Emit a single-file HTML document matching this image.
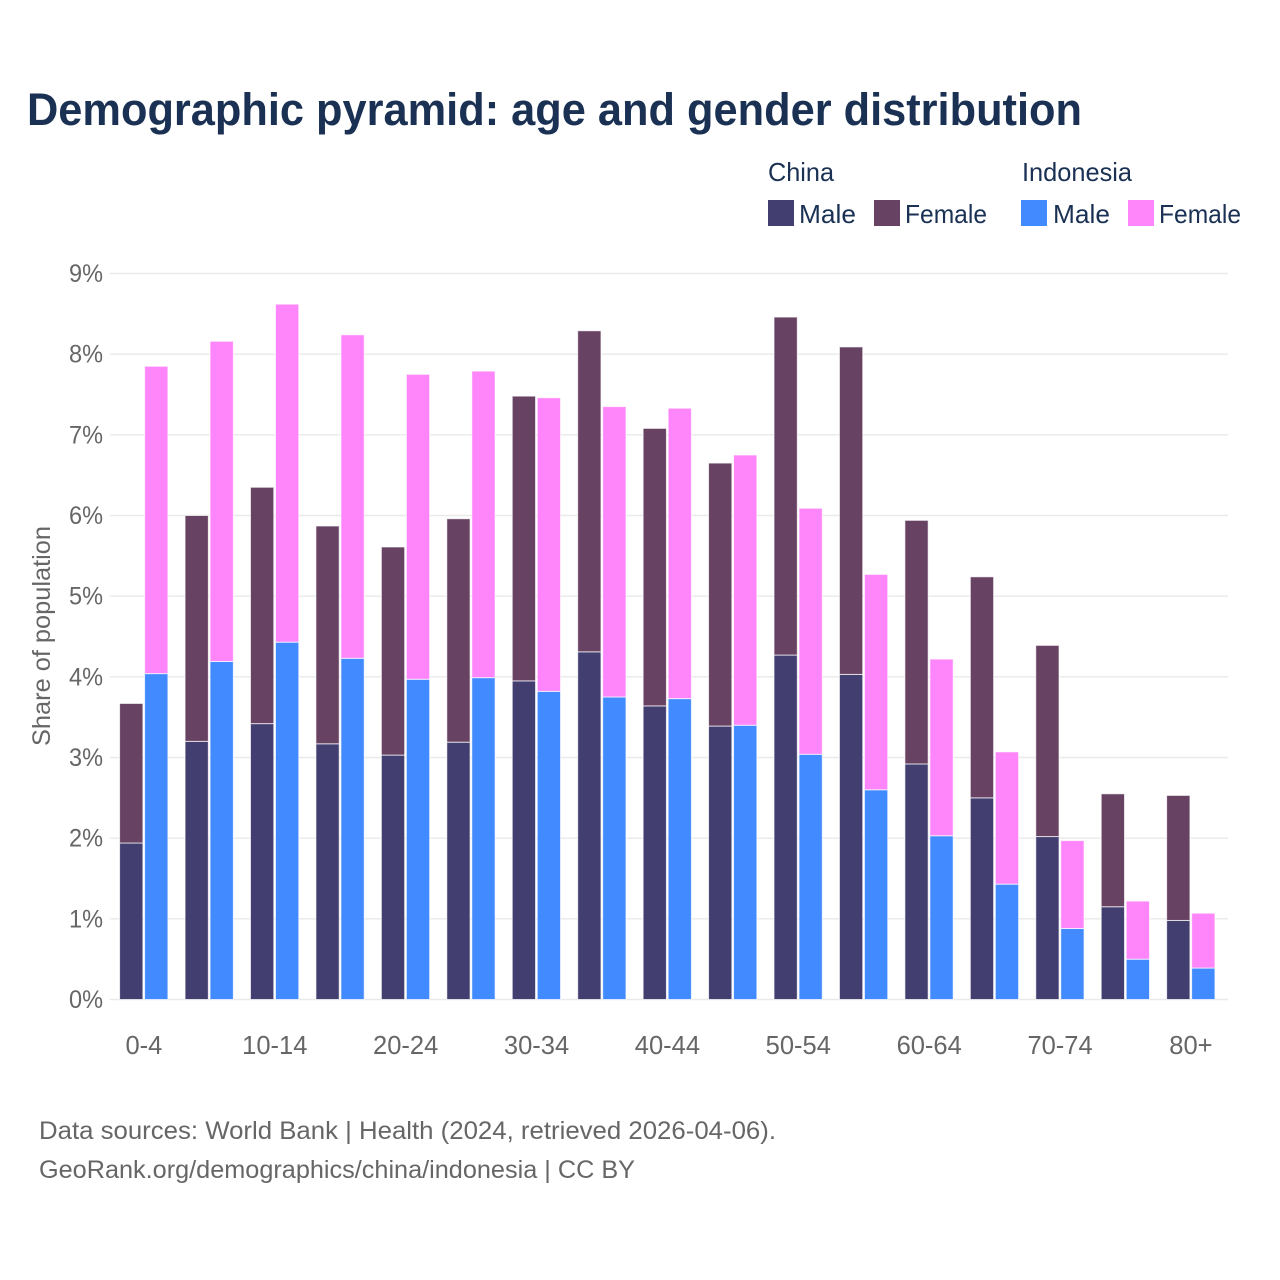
<!DOCTYPE html>
<html lang="en">
<head>
<meta charset="utf-8">
<title>Demographic pyramid</title>
<style>
html,body{margin:0;padding:0;background:#fff}
svg{display:block}
text{font-family:"Liberation Sans",sans-serif}
</style>
</head>
<body>
<svg id="chart" width="1280" height="1280" viewBox="0 0 1280 1280" xmlns="http://www.w3.org/2000/svg">
  <rect x="0" y="0" width="1280" height="1280" fill="#ffffff"/>
  <text x="27" y="125" font-size="45" font-weight="700" fill="#1a3154" textLength="1055" lengthAdjust="spacingAndGlyphs">Demographic pyramid: age and gender distribution</text>

  <g font-size="26" fill="#1a3154">
    <text x="768" y="181" textLength="66" lengthAdjust="spacingAndGlyphs">China</text>
    <text x="1022" y="181" textLength="110" lengthAdjust="spacingAndGlyphs">Indonesia</text>
    <rect x="768" y="200" width="26" height="26" fill="#423f70"/>
    <text x="799" y="223" textLength="57" lengthAdjust="spacingAndGlyphs">Male</text>
    <rect x="874" y="200" width="26" height="26" fill="#674263"/>
    <text x="905" y="223" textLength="82" lengthAdjust="spacingAndGlyphs">Female</text>
    <rect x="1021" y="200" width="26" height="26" fill="#418aff"/>
    <text x="1053" y="223" textLength="57" lengthAdjust="spacingAndGlyphs">Male</text>
    <rect x="1128" y="200" width="26" height="26" fill="#ff85fb"/>
    <text x="1159" y="223" textLength="82" lengthAdjust="spacingAndGlyphs">Female</text>
  </g>

  <g id="grid"></g>
  <g id="bars"></g>
  <g id="yticks"></g>
  <g id="xticks"></g>

  <text transform="translate(50,636) rotate(-90)" text-anchor="middle" font-size="25" fill="#666666" textLength="220" lengthAdjust="spacingAndGlyphs">Share of population</text>

  <text x="39" y="1139" font-size="25" fill="#666666" textLength="737" lengthAdjust="spacingAndGlyphs">Data sources: World Bank | Health (2024, retrieved 2026-04-06).</text>
  <text x="39" y="1178" font-size="25" fill="#666666" textLength="596" lengthAdjust="spacingAndGlyphs">GeoRank.org/demographics/china/indonesia | CC BY</text>
</svg>
<script>
const categories = ['0-4','5-9','10-14','15-19','20-24','25-29','30-34','35-39','40-44','45-49','50-54','55-59','60-64','65-69','70-74','75-79','80+'];
const xTickLabels = ['0-4','10-14','20-24','30-34','40-44','50-54','60-64','70-74','80+'];
const yTickValues = [0,1,2,3,4,5,6,7,8,9];
const chinaMale = [1.94,3.20,3.42,3.17,3.03,3.19,3.95,4.31,3.64,3.39,4.27,4.03,2.92,2.50,2.02,1.15,0.98];
const chinaFemale = [1.73,2.80,2.93,2.70,2.58,2.77,3.53,3.98,3.44,3.26,4.19,4.06,3.02,2.74,2.37,1.40,1.55];
const indonesiaMale = [4.04,4.19,4.43,4.23,3.97,3.99,3.82,3.75,3.73,3.40,3.04,2.60,2.03,1.43,0.88,0.50,0.39];
const indonesiaFemale = [3.81,3.97,4.19,4.01,3.78,3.80,3.64,3.60,3.60,3.35,3.05,2.67,2.19,1.64,1.09,0.72,0.68];

const NS = 'http://www.w3.org/2000/svg';
const y0 = 999.5, yPerUnit = (999 - 273) / 9;
const xFirst = 143.9, xStep = 65.44;
const barW = 23.3, chinaOffset = -24.3, indonesiaOffset = 0.7;
function yScale(v){ return y0 - v * yPerUnit; }
function xScale(i){ return xFirst + i * xStep; }
function make(tag, attrs, parent){
  const el = document.createElementNS(NS, tag);
  for (const k in attrs) el.setAttribute(k, attrs[k]);
  parent.appendChild(el);
  return el;
}
const grid = document.getElementById('grid');
const bars = document.getElementById('bars');
const yticks = document.getElementById('yticks');
const xticks = document.getElementById('xticks');

yTickValues.forEach(function(v){
  const line = make('line', {x1:110, x2:1228, y1:yScale(v), y2:yScale(v), stroke:'#e9e9e9', 'stroke-width':1.4}, grid);
  
  
  const t = make('text', {x:103, y:yScale(v) + 8.5, 'text-anchor':'end', 'font-size':25, fill:'#666666', textLength:34, lengthAdjust:'spacingAndGlyphs'}, yticks);
  t.textContent = v + '%';
  
  
});

function stackedBar(i, left, male, female, maleColor, femaleColor, country){
  const cat = categories[i];
  const m = make('rect', {x:left, y:yScale(male), width:barW, height:male * yPerUnit, fill:maleColor, stroke:'#ffffff', 'stroke-opacity':0.7, 'stroke-width':1}, bars);
  
  
  const f = make('rect', {x:left, y:yScale(male + female), width:barW, height:female * yPerUnit, fill:femaleColor, stroke:'#ffffff', 'stroke-opacity':0.7, 'stroke-width':1}, bars);
  
  
}

categories.forEach(function(cat, i){
  const c = xScale(i);
  stackedBar(i, c + chinaOffset, chinaMale[i], chinaFemale[i], '#423f70', '#674263', 'china');
  stackedBar(i, c + indonesiaOffset, indonesiaMale[i], indonesiaFemale[i], '#418aff', '#ff85fb', 'indonesia');
});

xTickLabels.forEach(function(label){
  const i = categories.indexOf(label);
  const t = make('text', {x:xScale(i), y:1054, 'text-anchor':'middle', 'font-size':25.5, fill:'#666666'}, xticks);
  t.textContent = label;
  
  
});
</script>
</body>
</html>
